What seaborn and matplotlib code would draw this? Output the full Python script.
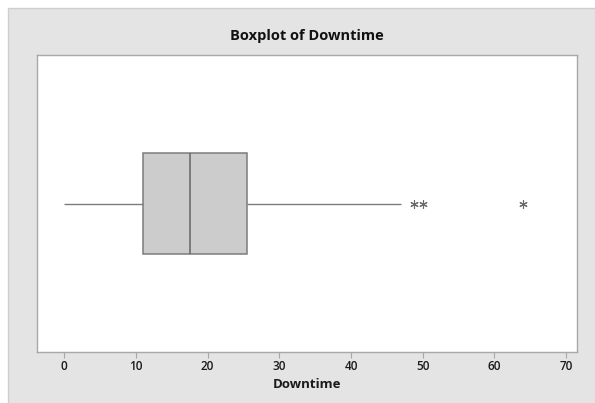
import matplotlib
matplotlib.use("Agg")
import matplotlib.pyplot as plt
from matplotlib.patches import Rectangle
import seaborn as sns
import pandas as pd

# Data (chosen so that quartiles / whiskers / outliers match the reference)
downtime = [0, 3, 6, 8, 10, 11, 13, 14, 15, 16, 17.5, 19, 20, 22, 24, 25.5,
            36, 47, 48.8, 50, 64]
x_ticks = [0, 10, 20, 30, 40, 50, 60, 70]
title_text = "Boxplot of Downtime"
x_label = "Downtime"

sns.set_theme(style="white")
plt.rcParams['font.family'] = ['Open Sans', 'DejaVu Sans']

fig = plt.figure(figsize=(5.95, 4.03), dpi=100, facecolor="white")
# gray panel (extends past right/bottom edges so only top/left border shows)
fig.patches.append(Rectangle((8 / 595, -0.05), 1.1, 1 - 8 / 403 + 0.05,
                             transform=fig.transFigure, facecolor="#e4e4e4",
                             edgecolor="#cfcfcf", linewidth=1.0, zorder=-10))

ax = fig.add_axes([37 / 595, 51 / 403, 540 / 595, 297 / 403])
ax.set_zorder(1)
df = pd.DataFrame({"Downtime": downtime})

sns.boxplot(data=df, x="Downtime", ax=ax, width=0.337, whis=1.5,
            color="#cccccc", linecolor="#7a7a7a", linewidth=1.1,
            showcaps=False,
            boxprops=dict(facecolor="#cccccc", edgecolor="#7c7c7c"),
            medianprops=dict(color="#666666", linewidth=1.1),
            whiskerprops=dict(color="#7c7c7c", linewidth=1.0),
            flierprops=dict(marker=(6, 2, 0), markersize=6,
                            markeredgecolor="#6a6a6a", markeredgewidth=0.8,
                            markerfacecolor="#6a6a6a"))

ax.set_facecolor("white")
ax.set_xlim(-3.77, 71.5)
ax.set_ylim(0.5, -0.5)
ax.set_xticks(x_ticks)
ax.set_xticklabels([str(t) for t in x_ticks], fontsize=8.5, fontweight="semibold",
                   color="#1a1a1a")
ax.set_yticks([])
ax.tick_params(axis="x", bottom=True, direction="out", length=4, width=0.8,
               color="#a8a8a8", pad=2)
for s in ax.spines.values():
    s.set_color("#a8a8a8")
    s.set_linewidth(1.0)
ax.set_ylabel("")
ax.set_xlabel(x_label, fontsize=9.5, fontweight="bold", color="#1a1a1a", labelpad=3)
ax.set_title(title_text, fontsize=10.5, fontweight="bold", color="#111111", pad=11)

fig.savefig("out.png", dpi=100, facecolor="white")
